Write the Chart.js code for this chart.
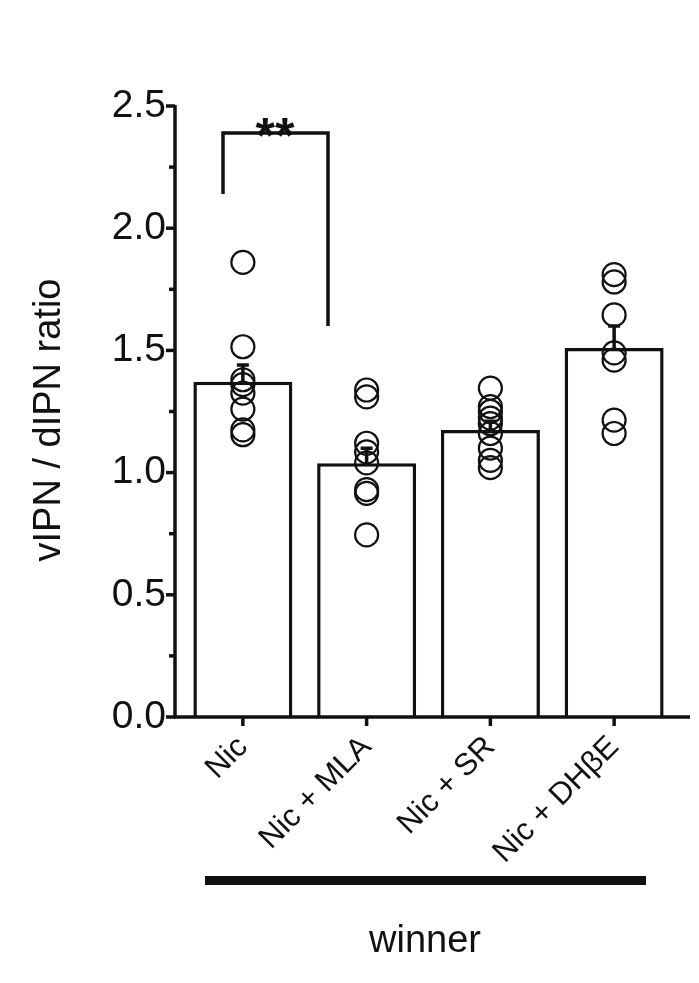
<!DOCTYPE html>
<html><head><meta charset="utf-8">
<script src="https://cdn.jsdelivr.net/npm/chart.js@4"></script>
<style>html,body{margin:0;padding:0;background:#fff}#w{width:699px;height:983px}</style>
</head><body><div id="w"><canvas id="c"></canvas></div>
<script>
const categories = ["Nic", "Nic + MLA", "Nic + SR", "Nic + DHβE"];
const means = [1.372, 1.038, 1.174, 1.51];
const semTop = [1.44, 1.10, 1.21, 1.60];
const ptsNic = [1.86, 1.515, 1.38, 1.36, 1.325, 1.26, 1.175, 1.155];
const ptsMLA = [1.338, 1.31, 1.12, 1.085, 1.04, 0.93, 0.915, 0.745];
const ptsSR = [1.346, 1.27, 1.25, 1.223, 1.2, 1.16, 1.10, 1.05, 1.02];
const ptsDH = [1.81, 1.78, 1.645, 1.49, 1.46, 1.215, 1.16];
const yTicks = [0, 0.5, 1.0, 1.5, 2.0, 2.5];
const FONT = "'Liberation Sans', Arial, sans-serif";
const allPts = [ptsNic, ptsMLA, ptsSR, ptsDH];
const scatterDatasets = allPts.map((arr, i) => ({
  type: 'line', showLine: false,
  data: arr.map(v => ({x: categories[i], y: v})),
  pointRadius: 11.5, pointBorderWidth: 2.2, pointBorderColor: '#111', pointBackgroundColor: 'rgba(0,0,0,0)',
  pointHoverRadius: 11.5
}));
const deco = {
  id: 'deco',
  afterDatasetsDraw(chart) {
    const {ctx, scales: {x, y}} = chart;
    ctx.save();
    ctx.strokeStyle = '#111'; ctx.fillStyle = '#111';
    ctx.lineWidth = 3.5;
    means.forEach((m, i) => {
      const cx = x.getPixelForValue(i);
      ctx.beginPath(); ctx.moveTo(cx, y.getPixelForValue(m)); ctx.lineTo(cx, y.getPixelForValue(semTop[i]));
      ctx.moveTo(cx - 6, y.getPixelForValue(semTop[i])); ctx.lineTo(cx + 6, y.getPixelForValue(semTop[i])); ctx.stroke();
    });
    const y0 = y.getPixelForValue(0), yT = y.getPixelForValue(2.5), ax = 175;
    ctx.lineWidth = 3.5;
    ctx.beginPath(); ctx.moveTo(ax, yT - 1); ctx.lineTo(ax, y0); ctx.lineTo(690, y0); ctx.stroke();
    for (let v = 0; v <= 2.5001; v += 0.25) {
      const py = y.getPixelForValue(v);
      const major = Math.abs(v * 2 - Math.round(v * 2)) < 1e-6;
      ctx.beginPath(); ctx.moveTo(ax - (major ? 9 : 6), py); ctx.lineTo(ax, py); ctx.stroke();
    }
    for (let i = 0; i < categories.length; i++) {
      const px = x.getPixelForValue(i);
      ctx.beginPath(); ctx.moveTo(px, y0); ctx.lineTo(px, y0 + 9); ctx.stroke();
    }
    ctx.lineWidth = 3.5;
    ctx.beginPath();
    ctx.moveTo(223, y.getPixelForValue(2.14)); ctx.lineTo(223, y.getPixelForValue(2.39));
    ctx.lineTo(328, y.getPixelForValue(2.39)); ctx.lineTo(328, y.getPixelForValue(1.6)); ctx.stroke();
    ctx.font = 'bold 50px ' + FONT; ctx.textAlign = 'center'; ctx.textBaseline = 'alphabetic';
    ctx.fillText('**', 275, y.getPixelForValue(2.39) + 20);
    ctx.save(); ctx.translate(50, 420); ctx.rotate(-Math.PI / 2);
    ctx.font = '38px ' + FONT; ctx.textAlign = 'center'; ctx.textBaseline = 'middle';
    ctx.fillText('vIPN / dIPN ratio', 0, 0); ctx.restore();
    ctx.fillRect(205, 876, 441, 9);
    ctx.font = '38px ' + FONT; ctx.textAlign = 'center'; ctx.textBaseline = 'middle';
    ctx.fillText('winner', 425, 942);
    ctx.restore();
  }
};
new Chart(document.getElementById('c'), {
  data: {
    labels: categories,
    datasets: [{type: 'bar', data: means, backgroundColor: '#fff', borderColor: '#111', borderWidth: 3.5,
      categoryPercentage: 0.8, barPercentage: 1.0, order: 2}, ...scatterDatasets.map(d => ({...d, order: 1}))]
  },
  options: {
    responsive: true, maintainAspectRatio: false, animation: false,
    layout: {padding: {left: 0, right: 23, top: 106, bottom: 0}},
    plugins: {legend: {display: false}, tooltip: {enabled: false}},
    scales: {
      x: {type: 'category', grid: {display: false, drawTicks: false}, border: {display: false},
        ticks: {color: '#111', font: {family: FONT, size: 31}, minRotation: 45, maxRotation: 45, padding: 12},
        afterFit(s) { s.height = 266; }},
      y: {min: 0, max: 2.5, grid: {display: false, drawTicks: false}, border: {display: false},
        afterBuildTicks(s) { s.ticks = yTicks.map(v => ({value: v})); },
        ticks: {color: '#111', font: {family: FONT, size: 39}, padding: 15,
          callback: v => Number(v).toFixed(1)},
        afterFit(s) { s.width = 181; }}
    }
  },
  plugins: [deco]
});
</script></body></html>
